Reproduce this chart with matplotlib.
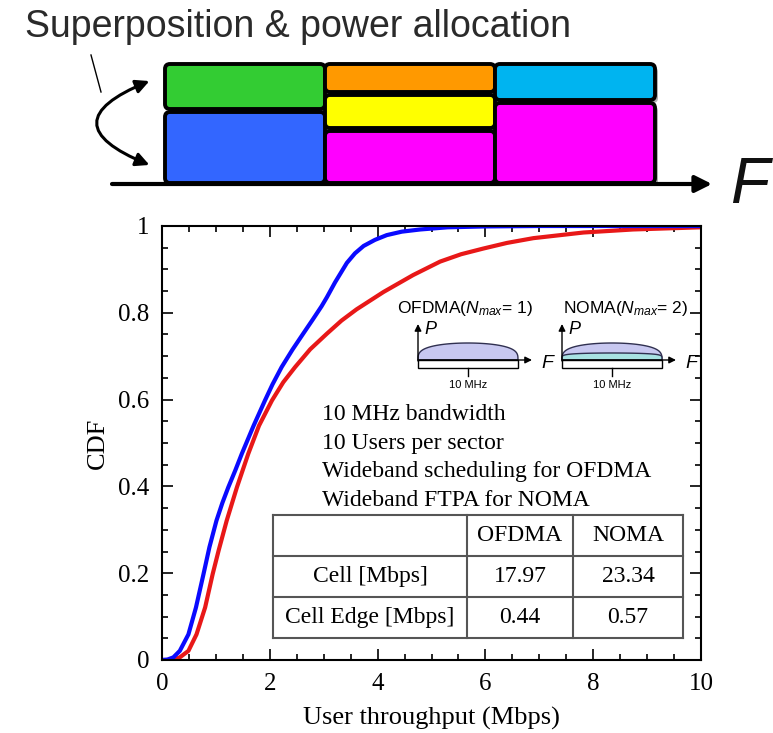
import numpy as np
import matplotlib
matplotlib.use('Agg')
import matplotlib.pyplot as plt
from matplotlib.patches import FancyBboxPatch, FancyArrowPatch, Polygon, Rectangle
from matplotlib.ticker import MultipleLocator, FuncFormatter

plt.rcParams['font.family'] = ['Liberation Serif', 'DejaVu Serif']
plt.rcParams['mathtext.fontset'] = 'custom'
plt.rcParams['mathtext.rm'] = 'Liberation Sans'
plt.rcParams['mathtext.it'] = 'Liberation Sans:italic'

# CDF of user throughput
ofdma_x = [0, 0.1, 0.21, 0.33, 0.49, 0.63, 0.77, 0.88, 1.01, 1.12, 1.23, 1.36, 1.48, 1.70,
           1.91, 2.05, 2.22, 2.42, 2.62, 2.8, 2.96, 3.06, 3.21, 3.43, 3.58, 3.74, 3.95, 4.17,
           4.45, 4.79, 5.3, 6, 7, 8, 9, 10]
ofdma_y = [0, 0.001, 0.006, 0.021, 0.059, 0.121, 0.198, 0.26, 0.321, 0.362, 0.398, 0.437,
           0.475, 0.54, 0.598, 0.635, 0.675, 0.715, 0.752, 0.785, 0.815, 0.836, 0.87, 0.915,
           0.937, 0.954, 0.968, 0.979, 0.987, 0.992, 0.997, 0.999, 1, 1, 1, 1]
noma_x = [0, 0.2, 0.33, 0.49, 0.64, 0.80, 0.94, 1.05, 1.20, 1.39, 1.60, 1.80, 2.04, 2.25,
          2.47, 2.75, 3.06, 3.33, 3.61, 4.11, 4.66, 5.16, 5.55, 5.96, 6.4, 6.89, 7.82, 8.74,
          10]
noma_y = [0, 0.0, 0.006, 0.021, 0.059, 0.121, 0.198, 0.252, 0.321, 0.398, 0.475, 0.54,
          0.598, 0.64, 0.675, 0.716, 0.752, 0.782, 0.808, 0.848, 0.887, 0.918, 0.935, 0.948,
          0.961, 0.972, 0.985, 0.992, 0.997]

notes = ['10 MHz bandwidth', '10 Users per sector',
         'Wideband scheduling for OFDMA', 'Wideband FTPA for NOMA']
col_labels = ['', 'OFDMA', 'NOMA']
row_labels = ['Cell [Mbps]', 'Cell Edge [Mbps]']
cell_vals = [['17.97', '23.34'], ['0.44', '0.57']]

# top schematic: resource blocks per frequency column (top -> bottom)
block_cols = [[('#33cc33', 64, 109), ('#3366ff', 112, 183)],
              [('#ff9900', 64, 92), ('#ffff00', 95, 128), ('#ff00ff', 131, 183)],
              [('#00b4f0', 64, 100), ('#ff00ff', 103, 183)]]
col_edges = [165, 325, 495, 655]

W, H = 773, 733
fig = plt.figure(figsize=(W / 100, H / 100), dpi=100)

ax = fig.add_axes([162 / W, 1 - 660 / H, (701 - 162) / W, (660 - 226) / H])
ax.plot(noma_x, noma_y, color='#e81818', lw=3)
ax.plot(ofdma_x, ofdma_y, color='#0a0aff', lw=3)
ax.set_xlim(0, 10)
ax.set_ylim(0, 1)
ax.xaxis.set_major_locator(MultipleLocator(2))
ax.xaxis.set_minor_locator(MultipleLocator(0.5))
ax.yaxis.set_major_locator(MultipleLocator(0.2))
ax.yaxis.set_minor_locator(MultipleLocator(0.05))
fmt = FuncFormatter(lambda v, p: '%g' % round(v, 2))
ax.xaxis.set_major_formatter(fmt)
ax.yaxis.set_major_formatter(fmt)
ax.tick_params(which='both', direction='in', top=True, right=True, width=1.2, labelsize=18)
ax.tick_params(which='major', length=8, pad=9)
ax.tick_params(which='minor', length=4.5)
for s in ax.spines.values():
    s.set_linewidth(1.5)
ax.set_xlabel('User throughput (Mbps)', fontsize=19, labelpad=9)
ax.set_ylabel('CDF', fontsize=19, labelpad=7)

# overlay in pixel coordinates for the drawings, notes and table
ov = fig.add_axes([0, 0, 1, 1], zorder=5)
ov.set_xlim(0, W)
ov.set_ylim(H, 0)
ov.axis('off')
ov.patch.set_alpha(0)

ov.text(25, 27, 'Superposition & power allocation', fontsize=27, color='#2a2a2a',
        family='Liberation Sans', va='center', ha='left')
ov.plot([91, 101], [55, 92], color='black', lw=1)
ov.add_patch(FancyArrowPatch((152, 80), (152, 166), connectionstyle='arc3,rad=1.25',
                             arrowstyle='<|-|>', mutation_scale=20, lw=2.2, color='black'))

ov.annotate('', xy=(712, 184), xytext=(112, 184),
            arrowprops=dict(arrowstyle='-|>', lw=3, color='black', mutation_scale=25,
                            shrinkA=0, shrinkB=0))
for c, col in enumerate(block_cols):
    x0, x1 = col_edges[c], col_edges[c + 1]
    for color, y0, y1 in col:
        ov.add_patch(FancyBboxPatch((x0 + 3, y0 + 3), x1 - x0, y1 - y0,
                                    boxstyle='round,pad=0,rounding_size=5',
                                    fc='#b0b0b0', ec='none', zorder=2))
        ov.add_patch(FancyBboxPatch((x0, y0), x1 - x0, y1 - y0,
                                    boxstyle='round,pad=0,rounding_size=5',
                                    fc=color, ec='black', lw=2.8, zorder=3))
ov.text(730, 186, 'F', fontsize=46, style='italic', family='Liberation Sans',
        va='center', ha='left', color='#111111')

# small P-F sketches
def sketch(x0, tx0, label, layered):
    ov.text(tx0, 308, label, fontsize=12.5, family='Liberation Sans',
            va='center', ha='left')
    t = np.linspace(0, np.pi, 60)
    cx = x0 + 50
    dome = np.column_stack([cx + 50 * np.cos(t), 360 - 17 * np.sin(t) ** 0.6])
    ov.add_patch(Polygon(dome, closed=True, fc='#c8c8f0', ec='#303050', lw=1))
    if layered:
        inner = np.column_stack([cx + 50 * np.cos(t), 360 - 7 * np.sin(t) ** 0.3])
        ov.add_patch(Polygon(inner, closed=True, fc='#a8e2e2', ec='#303050', lw=1))
    ov.add_patch(Rectangle((x0, 360), 100, 8, fc='white', ec='black', lw=1))
    ov.plot([cx, cx], [368, 376], color='black', lw=1)
    ov.text(cx, 385, '10 MHz', fontsize=8, family='Liberation Sans', ha='center', va='center')
    ov.annotate('', xy=(x0, 324), xytext=(x0, 361),
                arrowprops=dict(arrowstyle='-|>', lw=1, color='black', mutation_scale=10,
                                shrinkA=0, shrinkB=0))
    ov.annotate('', xy=(x0 + 114, 360), xytext=(x0, 360),
                arrowprops=dict(arrowstyle='-|>', lw=1, color='black', mutation_scale=10,
                                shrinkA=0, shrinkB=0))
    ov.text(x0 + 6, 330, 'P', fontsize=13, style='italic', family='Liberation Sans',
            va='center', ha='left')
    ov.text(x0 + 123, 364, 'F', fontsize=14, style='italic', family='Liberation Sans',
            va='center', ha='left')

sketch(418, 397, r'OFDMA($N_{max}$= 1)', False)
sketch(562, 563, r'NOMA($N_{max}$= 2)', True)

for i, line in enumerate(notes):
    ov.text(322, 415 + i * 28.5, line, fontsize=17, va='center', ha='left')

# table
tx = [273, 467, 573, 683]
ty = [515, 556, 597, 638]
for x in tx:
    ov.plot([x, x], [ty[0], ty[-1]], color='#555555', lw=1.5)
for y in ty:
    ov.plot([tx[0], tx[-1]], [y, y], color='#555555', lw=1.5)
for j, lab in enumerate(col_labels):
    ov.text((tx[j] + tx[j + 1]) / 2, (ty[0] + ty[1]) / 2, lab, fontsize=17,
            ha='center', va='center')
for i, lab in enumerate(row_labels):
    yc = (ty[i + 1] + ty[i + 2]) / 2
    ov.text((tx[0] + tx[1]) / 2, yc, lab, fontsize=17, ha='center', va='center')
    for j, v in enumerate(cell_vals[i]):
        ov.text((tx[j + 1] + tx[j + 2]) / 2, yc, v, fontsize=17, ha='center', va='center')

fig.savefig('out.png', dpi=100, facecolor='white')
